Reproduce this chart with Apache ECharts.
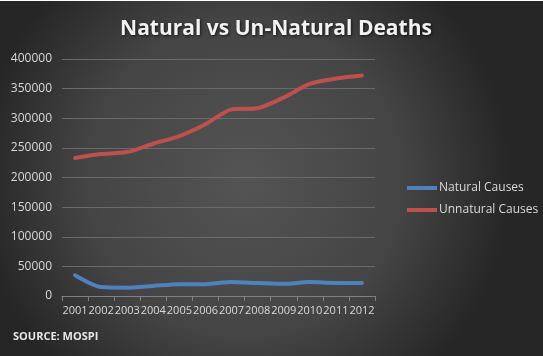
<!DOCTYPE html>
<html><head><meta charset="utf-8">
<script src="https://cdn.jsdelivr.net/npm/echarts@6/dist/echarts.min.js"></script>
<style>html,body{margin:0;padding:0;background:#fff;}#c{position:absolute;left:0;top:1px;width:543px;height:355px;}</style>
</head><body><div id="c"></div>
<script>
var years = ['2001','2002','2003','2004','2005','2006','2007','2008','2009','2010','2011','2012'];
var naturalCauses = [35000,15000,14000,17000,20000,20000,23500,22000,20500,23500,22000,22000];
var unnaturalCauses = [233000,239500,243000,257000,270000,290000,315000,317000,335000,358000,367000,372000];
var yTicks = {min:0, max:400000, interval:50000};

var chart = echarts.init(document.getElementById('c'), null, {renderer:'canvas'});
var font = 'Open Sans, Lato, sans-serif';
chart.setOption({
  animation:false,
  backgroundColor:{type:'radial', x:0.45, y:0.5, r:0.75,
    colorStops:[{offset:0,color:'#545454'},{offset:0.6,color:'#444444'},{offset:1,color:'#262626'}]},
  title:{text:'Natural vs Un-Natural Deaths', left:271, top:13, textAlign:'center',
    textStyle:{color:'#f2f2f2', fontSize:21, fontWeight:'bold', fontFamily:font,
      textShadowColor:'rgba(0,0,0,0.7)', textShadowBlur:3, textShadowOffsetX:1, textShadowOffsetY:1}},
  graphic:[{type:'text', left:13, top:330, style:{text:'SOURCE: MOSPI', fill:'#e6e6e6', font:'bold 11px '+font}}],
  legend:{orient:'vertical', left:402, top:176, itemGap:10, itemWidth:30, itemHeight:4, icon:'rect',
    textStyle:{color:'#d9d9d9', fontSize:12, fontFamily:font, padding:[0,0,0,-3]},
    data:['Natural Causes','Unnatural Causes']},
  grid:{left:62, right:168, top:58, bottom:60, containLabel:false},
  xAxis:{type:'category', data:years, boundaryGap:true,
    axisLine:{lineStyle:{color:'#808080'}},
    axisTick:{show:true, length:5, lineStyle:{color:'#808080'}},
    axisLabel:{color:'#d9d9d9', fontSize:11, fontFamily:font, margin:9, interval:0}},
  yAxis:{type:'value', min:yTicks.min, max:yTicks.max, interval:yTicks.interval,
    axisLine:{show:false}, axisTick:{show:false},
    splitLine:{lineStyle:{color:'#6a6a6a'}},
    axisLabel:{color:'#d9d9d9', fontSize:12, fontFamily:font, margin:10, formatter:function(v){return String(v);}}},
  series:[
    {name:'Natural Causes', type:'line', data:naturalCauses, smooth:0.25, symbol:'none',
      lineStyle:{width:4, color:'#4f81bd', cap:'round', join:'round'}, itemStyle:{color:'#4f81bd'}},
    {name:'Unnatural Causes', type:'line', data:unnaturalCauses, smooth:0.25, symbol:'none',
      lineStyle:{width:4, color:'#c0504d', cap:'round', join:'round'}, itemStyle:{color:'#c0504d'}}
  ]
});
</script></body></html>
